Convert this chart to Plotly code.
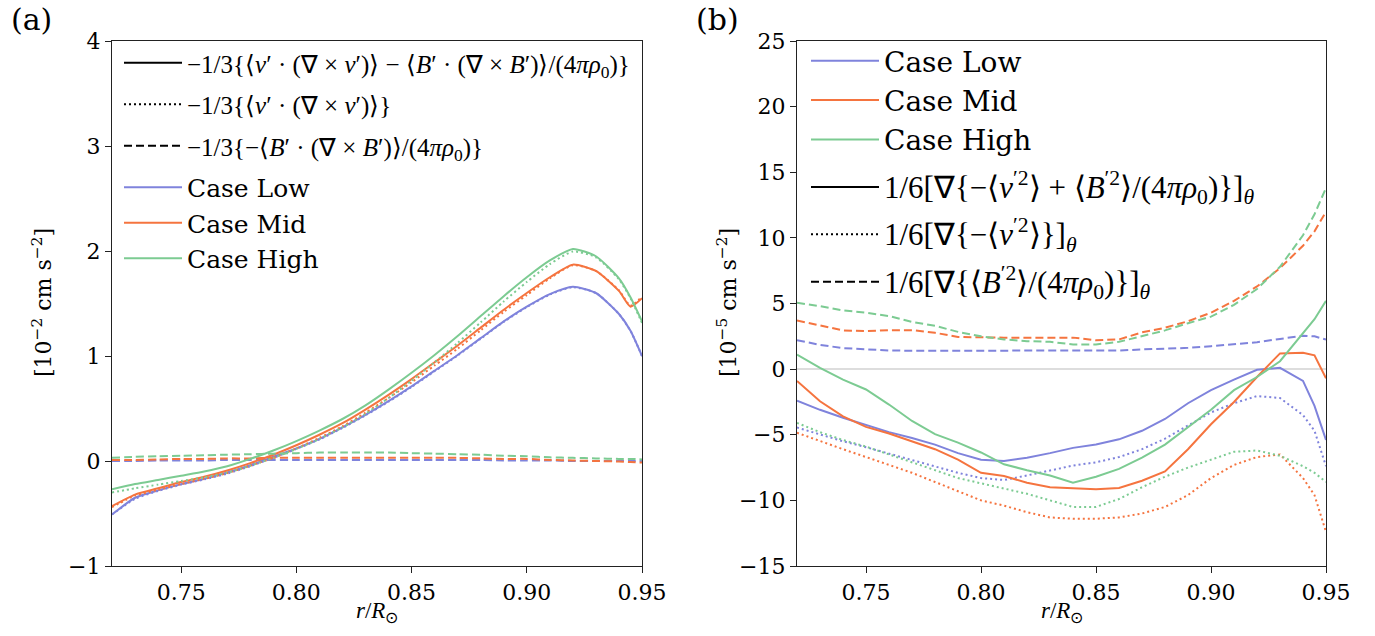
import plotly.graph_objects as go

# ---------------- data ----------------
r = [0.72, 0.73, 0.74, 0.75, 0.76, 0.77, 0.78, 0.79, 0.80, 0.81, 0.82, 0.83,
     0.84, 0.85, 0.86, 0.87, 0.88, 0.89, 0.90, 0.91, 0.92, 0.93, 0.94, 0.945, 0.95]

# panel (a): helicity terms [1e-2 cm s^-2]
low_tot_a = [-0.51, -0.35, -0.28, -0.22, -0.17, -0.11, -0.04, 0.04, 0.12, 0.21, 0.32, 0.44,
             0.57, 0.71, 0.86, 1.01, 1.17, 1.33, 1.47, 1.59, 1.66, 1.60, 1.40, 1.24, 1.00]
low_v_a = [-0.51, -0.36, -0.285, -0.225, -0.175, -0.12, -0.05, 0.03, 0.115, 0.205, 0.315, 0.435,
           0.565, 0.705, 0.855, 1.005, 1.165, 1.325, 1.465, 1.585, 1.655, 1.60, 1.40, 1.24, 1.00]
low_b_a = [0.0, 0.0, 0.005, 0.005, 0.005, 0.01, 0.01, 0.01, 0.01, 0.01, 0.01, 0.01,
           0.01, 0.01, 0.01, 0.01, 0.01, 0.005, 0.005, 0.005, 0.0, 0.0, 0.0, 0.0, 0.0]

mid_tot_a = [-0.43, -0.32, -0.26, -0.20, -0.15, -0.09, -0.02, 0.06, 0.15, 0.25, 0.36, 0.49,
             0.63, 0.78, 0.94, 1.10, 1.27, 1.44, 1.60, 1.75, 1.87, 1.81, 1.62, 1.47, 1.55]
mid_v_a = [-0.44, -0.33, -0.275, -0.22, -0.17, -0.115, -0.045, 0.03, 0.12, 0.22, 0.33, 0.46,
           0.60, 0.75, 0.91, 1.07, 1.245, 1.42, 1.58, 1.74, 1.865, 1.81, 1.625, 1.48, 1.565]
mid_b_a = [0.01, 0.01, 0.015, 0.02, 0.02, 0.025, 0.025, 0.03, 0.03, 0.03, 0.03, 0.03,
           0.03, 0.03, 0.03, 0.03, 0.025, 0.02, 0.02, 0.01, 0.005, 0.0, -0.005, -0.01, -0.015]

high_tot_a = [-0.27, -0.22, -0.18, -0.14, -0.10, -0.05, 0.02, 0.10, 0.19, 0.29, 0.40, 0.53,
              0.68, 0.84, 1.01, 1.19, 1.38, 1.57, 1.75, 1.91, 2.02, 1.95, 1.74, 1.56, 1.33]
high_v_a = [-0.30, -0.26, -0.225, -0.19, -0.155, -0.11, -0.045, 0.03, 0.115, 0.21, 0.32, 0.45,
            0.60, 0.765, 0.94, 1.125, 1.32, 1.52, 1.705, 1.875, 1.995, 1.94, 1.73, 1.55, 1.315]
high_b_a = [0.03, 0.04, 0.045, 0.05, 0.055, 0.06, 0.065, 0.07, 0.075, 0.08, 0.08, 0.08,
            0.08, 0.075, 0.07, 0.065, 0.06, 0.05, 0.045, 0.035, 0.03, 0.025, 0.02, 0.02, 0.015]

# panel (b): pressure-gradient terms [1e-5 cm s^-2]
low_tot_b = [-2.4, -3.1, -3.7, -4.25, -4.8, -5.25, -5.75, -6.4, -6.9, -7.0, -6.75, -6.4,
             -6.0, -5.75, -5.35, -4.7, -3.8, -2.6, -1.6, -0.8, -0.05, 0.1, -0.9, -2.8, -5.4]
low_v_b = [-4.45, -5.0, -5.5, -5.95, -6.45, -6.95, -7.45, -7.9, -8.3, -8.45, -8.1, -7.7,
           -7.35, -7.1, -6.7, -6.1, -5.3, -4.3, -3.3, -2.6, -2.05, -2.2, -3.5, -4.7, -7.4]
low_b_b = [2.2, 1.85, 1.6, 1.5, 1.42, 1.4, 1.4, 1.4, 1.4, 1.4, 1.4, 1.4,
           1.38, 1.4, 1.42, 1.5, 1.57, 1.62, 1.75, 1.9, 2.05, 2.3, 2.55, 2.5, 2.25]

mid_tot_b = [-0.9, -2.45, -3.6, -4.4, -4.9, -5.5, -6.1, -6.9, -7.9, -8.15, -8.65, -9.0,
             -9.1, -9.15, -9.05, -8.5, -7.8, -6.1, -4.2, -2.5, -0.6, 1.2, 1.25, 1.05, -0.7]
mid_v_b = [-4.85, -5.5, -6.1, -6.7, -7.3, -7.9, -8.6, -9.3, -10.0, -10.4, -10.9, -11.3,
           -11.4, -11.4, -11.3, -11.0, -10.5, -9.6, -8.3, -7.3, -6.7, -6.5, -8.3, -9.6, -12.4]
mid_b_b = [3.7, 3.3, 2.95, 2.9, 2.97, 2.97, 2.77, 2.45, 2.4, 2.4, 2.4, 2.4,
           2.4, 2.2, 2.26, 2.8, 3.15, 3.65, 4.3, 5.2, 6.3, 7.7, 9.4, 10.5, 12.0]

high_tot_b = [1.1, 0.1, -0.8, -1.55, -2.7, -3.95, -4.95, -5.6, -6.35, -7.25, -7.7, -8.1,
              -8.65, -8.2, -7.6, -6.75, -5.75, -4.4, -3.1, -1.6, -0.6, 0.6, 2.7, 3.8, 5.2]
high_v_b = [-4.1, -4.8, -5.4, -5.9, -6.5, -7.1, -7.7, -8.3, -8.7, -9.1, -9.5, -10.0,
            -10.5, -10.5, -9.9, -9.0, -8.2, -7.5, -6.9, -6.3, -6.2, -6.6, -7.4, -7.9, -8.6]
high_b_b = [5.05, 4.8, 4.47, 4.3, 4.04, 3.6, 3.3, 2.84, 2.5, 2.26, 2.13, 2.08,
            1.88, 1.88, 2.08, 2.5, 2.95, 3.5, 4.0, 4.9, 6.1, 7.8, 10.2, 11.8, 13.8]

case_names = ["Case Low", "Case Mid", "Case High"]
case_colors = ["#7f83dc", "#f5743f", "#7ccb92"]

x_ticks = [0.75, 0.80, 0.85, 0.90, 0.95]
x_ticklabels = ["0.75", "0.80", "0.85", "0.90", "0.95"]
ya_ticks = [-1, 0, 1, 2, 3, 4]
ya_ticklabels = ["\u22121", "0", "1", "2", "3", "4"]
yb_ticks = [-15, -10, -5, 0, 5, 10, 15, 20, 25]
yb_ticklabels = ["\u221215", "\u221210", "\u22125", "0", "5", "10", "15", "20", "25"]

MATH = "Liberation Serif"
TXT = "DejaVu Serif"


def m(s, size=None):
    size_css = f";font-size:{size}px" if size else ""
    return f'<span style="font-family:{MATH}{size_css}">{s}</span>'


label_a = [
    m("\u22121/3{\u27e8<i>v</i>\u2032 \u00b7 (\u2207 \u00d7 <i>v</i>\u2032)\u27e9 \u2212 \u27e8<i>B</i>\u2032 \u00b7 (\u2207 \u00d7 <i>B</i>\u2032)\u27e9/(4<i>\u03c0\u03c1</i><sub>0</sub>)}"),
    m("\u22121/3{\u27e8<i>v</i>\u2032 \u00b7 (\u2207 \u00d7 <i>v</i>\u2032)\u27e9}"),
    m("\u22121/3{\u2212\u27e8<i>B</i>\u2032 \u00b7 (\u2207 \u00d7 <i>B</i>\u2032)\u27e9/(4<i>\u03c0\u03c1</i><sub>0</sub>)}"),
]
label_b = [
    m("1/6[\u2207{\u2212\u27e8<i>v</i><sup>\u20322</sup>\u27e9 + \u27e8<i>B</i><sup>\u20322</sup>\u27e9/(4<i>\u03c0\u03c1</i><sub>0</sub>)}]<sub><i>\u03b8</i></sub>", 31),
    m("1/6[\u2207{\u2212\u27e8<i>v</i><sup>\u20322</sup>\u27e9}]<sub><i>\u03b8</i></sub>", 31),
    m("1/6[\u2207{\u27e8<i>B</i><sup>\u20322</sup>\u27e9/(4<i>\u03c0\u03c1</i><sub>0</sub>)}]<sub><i>\u03b8</i></sub>", 31),
]

DOT = "2px,3px"
DASH = "8px,4px"
styles = ["solid", DOT, DASH]

fig = go.Figure()

panel_a = [(low_tot_a, low_v_a, low_b_a), (mid_tot_a, mid_v_a, mid_b_a), (high_tot_a, high_v_a, high_b_a)]
panel_b = [(low_tot_b, low_v_b, low_b_b), (mid_tot_b, mid_v_b, mid_b_b), (high_tot_b, high_v_b, high_b_b)]

for (series, xa, ya, shape) in [(panel_a, "x", "y", "spline"), (panel_b, "x2", "y2", "linear")]:
    for color, trio in zip(case_colors, series):
        for vals, dash in zip(trio, styles):
            fig.add_trace(go.Scatter(
                x=r, y=vals, mode="lines", xaxis=xa, yaxis=ya, showlegend=False,
                line=dict(color=color, width=2, dash=dash, shape=shape, smoothing=0.6),
                hoverinfo="skip"))

# legend keys: each line-style key in its own group, the three cases share one group
rank = 1
for i, (lab, dash) in enumerate(zip(label_a, styles)):
    fig.add_trace(go.Scatter(x=[None], y=[None], mode="lines", name=lab, legend="legend",
                             legendgroup=f"a_style{i}", legendrank=rank,
                             line=dict(color="black", width=2, dash=dash)))
    rank += 1
for name, color in zip(case_names, case_colors):
    fig.add_trace(go.Scatter(x=[None], y=[None], mode="lines", name=name, legend="legend",
                             legendgroup="a_cases", legendrank=rank,
                             line=dict(color=color, width=2)))
    rank += 1

rank = 1
for name, color in zip(case_names, case_colors):
    fig.add_trace(go.Scatter(x=[None], y=[None], mode="lines", name=name, legend="legend2",
                             xaxis="x2", yaxis="y2",
                             legendgroup="b_cases", legendrank=rank,
                             line=dict(color=color, width=2)))
    rank += 1
for i, (lab, dash) in enumerate(zip(label_b, styles)):
    fig.add_trace(go.Scatter(x=[None], y=[None], mode="lines", name=lab, legend="legend2",
                             xaxis="x2", yaxis="y2",
                             legendgroup=f"b_style{i}", legendrank=rank,
                             line=dict(color="black", width=2, dash=dash)))
    rank += 1

W, H = 1375, 636


def px_x(p):
    return p / W


def px_y(p):
    return 1 - p / H


axis_common = dict(showline=True, linecolor="#222", linewidth=1.3, mirror=True,
                   ticks="outside", ticklen=6, tickcolor="#222", tickwidth=1.3,
                   showgrid=False, automargin=False,
                   tickfont=dict(family=TXT, size=22, color="black"))

fig.update_layout(
    width=W, height=H,
    margin=dict(l=0, r=0, t=0, b=0),
    paper_bgcolor="white", plot_bgcolor="white",
    xaxis=dict(domain=[px_x(112), px_x(642)], range=[0.72, 0.95], tickvals=x_ticks,
               ticktext=x_ticklabels, zeroline=False, anchor="y", **axis_common),
    yaxis=dict(domain=[px_y(566), px_y(41)], range=[-1, 4], tickvals=ya_ticks,
               ticktext=ya_ticklabels, zeroline=False, anchor="x", **axis_common),
    xaxis2=dict(domain=[px_x(797), px_x(1326)], range=[0.72, 0.95], tickvals=x_ticks,
                ticktext=x_ticklabels, zeroline=False, anchor="y2", **axis_common),
    yaxis2=dict(domain=[px_y(566), px_y(41)], range=[-15, 25], tickvals=yb_ticks,
                ticktext=yb_ticklabels, zeroline=True, zerolinecolor="#dddddd",
                zerolinewidth=1.5, anchor="x2", **axis_common),
    legend=dict(x=px_x(119), y=px_y(40), xanchor="left", yanchor="top",
                bgcolor="rgba(0,0,0,0)", tracegroupgap=6, itemwidth=58,
                font=dict(family=TXT, size=25, color="black")),
    legend2=dict(x=px_x(806), y=px_y(36), xanchor="left", yanchor="top",
                 bgcolor="rgba(0,0,0,0)", tracegroupgap=8, itemwidth=68,
                 font=dict(family=TXT, size=28, color="black")),
)

ann = []
for txt, cx in (("(a)", 31), ("(b)", 717)):
    ann.append(dict(text=txt, x=px_x(cx), y=px_y(20), xanchor="center", yanchor="middle",
                    showarrow=False, xref="paper", yref="paper",
                    font=dict(family=TXT, size=30, color="black")))
for txt, cx in (("[10<sup>\u22122</sup> cm s<sup>\u22122</sup>]", 42),
                ("[10<sup>\u22125</sup> cm s<sup>\u22122</sup>]", 727)):
    ann.append(dict(text=txt, x=px_x(cx), y=px_y(303), xanchor="center", yanchor="middle",
                    textangle=-90, showarrow=False, xref="paper", yref="paper",
                    font=dict(family=TXT, size=22, color="black")))
for cx in (377, 1062):
    ann.append(dict(text="<i>r</i>/<i>R</i><sub>\u2299</sub>", x=px_x(cx), y=px_y(612),
                    xanchor="center", yanchor="middle",
                    showarrow=False, xref="paper", yref="paper",
                    font=dict(family=MATH, size=23, color="black")))
fig.update_layout(annotations=ann)

fig.write_html("out.html")
